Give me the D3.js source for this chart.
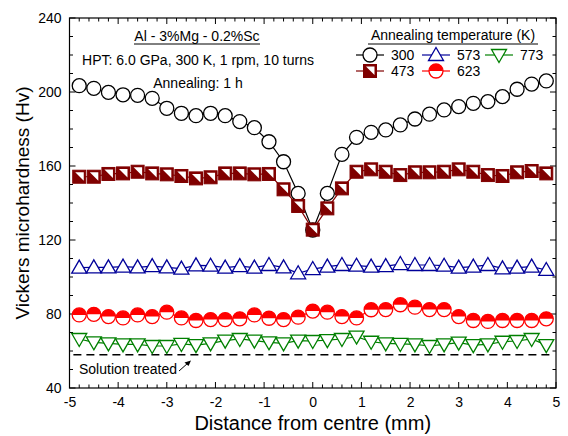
<!DOCTYPE html>
<html><head><meta charset="utf-8">
<script src="https://cdn.jsdelivr.net/npm/d3@7"></script>
<style>body{margin:0;background:#fff}svg{display:block;font-family:"Liberation Sans",Arial,sans-serif}</style>
</head><body><svg id="c" width="568" height="436"></svg>
<script>
const distance = [-4.8,-4.5,-4.2,-3.9,-3.6,-3.3,-3.0,-2.7,-2.4,-2.1,-1.8,-1.5,-1.2,-0.9,-0.6,-0.3,0,0.3,0.6,0.9,1.2,1.5,1.8,2.1,2.4,2.7,3.0,3.3,3.6,3.9,4.2,4.5,4.8];
const hv300 = [203.4,202.0,199.8,198.5,198.2,196.6,191.2,188.5,187.2,188.5,187.2,184.0,180.7,173.1,162.3,145.2,125.4,145.2,166.3,175.5,178.2,179.5,182.2,185.4,188.0,190.3,192.1,193.9,194.8,197.5,201.5,204.3,206.0];
const hv473 = [154.2,154.2,155.7,156.0,156.9,156.0,155.5,154.6,153.3,153.9,156.0,156.0,155.5,155.7,147.4,138.4,125.6,137.1,147.9,156.9,158.2,156.9,155.1,156.6,156.6,156.9,158.2,156.9,155.1,154.6,156.6,157.3,156.0];
const hv573 = [105.1,105.2,105.2,105.6,105.2,105.9,105.2,104.5,106.3,106.1,105.1,105.9,105.1,106.5,105.2,102.0,104.3,105.6,106.5,106.1,105.6,105.9,107.0,106.5,106.5,106.1,105.1,105.6,106.5,104.7,105.1,105.6,103.8];
const hv623 = [79.5,79.8,78.6,77.9,79.5,78.6,81.0,77.9,76.5,77.0,77.0,77.4,79.5,77.7,77.0,78.3,81.6,81.0,78.6,77.9,82.3,82.4,85.0,83.7,82.4,82.4,78.6,76.5,76.0,76.5,76.5,76.5,77.4];
const hv773 = [66.5,64.7,64.1,63.6,63.6,62.7,62.7,63.8,63.2,64.1,65.6,66.5,65.6,64.7,64.1,65.6,65.4,65.9,66.5,67.8,65.0,64.1,63.8,63.6,62.7,63.6,64.5,63.2,63.6,65.0,65.4,66.5,63.2];
const solutionTreated = 58;
const seriesNames = ["300","473","573","623","773"];
const xTicks = [-5,-4,-3,-2,-1,0,1,2,3,4,5];
const yTicks = [40,80,120,160,200,240];

const series = [
  {name:"300", values:hv300, color:"#000000", sym:"circle"},
  {name:"473", values:hv473, color:"#800000", sym:"halfsquare"},
  {name:"573", values:hv573, color:"#000099", sym:"triup"},
  {name:"623", values:hv623, color:"#ff0000", sym:"halfcircle"},
  {name:"773", values:hv773, color:"#008000", sym:"tridown"}
];

const svg = d3.select("#c");
const L=69.5, R=556, T=18, B=388;
const x = d3.scaleLinear().domain([-5,5]).range([L,R]);
const y = d3.scaleLinear().domain([40,240]).range([B,T]);

const g = svg.append("g");
const xMinor = d3.range(-5,5.001,0.2);
const yMinor = d3.range(40,240.001,10);
function tk(x1,y1,x2,y2){g.append("line").attr("x1",x1).attr("y1",y1).attr("x2",x2).attr("y2",y2).attr("stroke","#000").attr("stroke-width",1);}
xMinor.forEach(v=>{
  const major = Math.abs(v-Math.round(v))<1e-6;
  const len = major?6:3.5;
  tk(x(v),B,x(v),B-len); tk(x(v),T,x(v),T+len);
});
yMinor.forEach(v=>{
  const major = v%40===0;
  const len = major?6:3.5;
  tk(L,y(v),L+len,y(v)); tk(R,y(v),R-len,y(v));
});

const xAxis = d3.axisBottom(x).tickValues(xTicks).tickSize(0).tickPadding(9).tickFormat(d=>d<0?"-"+Math.abs(d):d);
const xa = svg.append("g").attr("transform",`translate(0,${B})`).call(xAxis);
xa.select(".domain").remove();
xa.selectAll("text").attr("font-size",14).attr("font-family","Liberation Sans, Arial").attr("fill","#000");
const yAxis = d3.axisLeft(y).tickValues(yTicks).tickSize(0).tickPadding(8);
const ya = svg.append("g").attr("transform",`translate(${L},0)`).call(yAxis);
ya.select(".domain").remove();
ya.selectAll("text").attr("font-size",14).attr("font-family","Liberation Sans, Arial").attr("fill","#000");

svg.append("rect").attr("x",L).attr("y",T).attr("width",R-L).attr("height",B-T).attr("fill","none").attr("stroke","#000").attr("stroke-width",1.2);

svg.append("text").attr("x",(L+R)/2).attr("y",430).attr("text-anchor","middle").attr("font-size",20).text("Distance from centre (mm)");
svg.append("text").attr("transform",`translate(29,${(T+B)/2}) rotate(-90)`).attr("text-anchor","middle").attr("font-size",19).text("Vickers microhardness (Hv)");

svg.append("line").attr("x1",x(-4.92)).attr("x2",x(4.92)).attr("y1",y(solutionTreated)).attr("y2",y(solutionTreated))
  .attr("stroke","#000").attr("stroke-width",1.5).attr("stroke-dasharray","8,5");
svg.append("text").attr("x",79).attr("y",374).attr("font-size",14).text("Solution treated");
svg.append("line").attr("x1",179).attr("y1",371).attr("x2",188).attr("y2",363).attr("stroke","#000").attr("stroke-width",1);
svg.append("path").attr("d","M191,360.5 L184.5,362.5 L188.5,366 Z").attr("fill","#000");

svg.append("text").attr("x",197).attr("y",41).attr("text-anchor","middle").attr("font-size",14).text("Al - 3%Mg - 0.2%Sc");
svg.append("line").attr("x1",134).attr("x2",260).attr("y1",44).attr("y2",44).attr("stroke","#000").attr("stroke-width",1);
svg.append("text").attr("x",198).attr("y",65).attr("text-anchor","middle").attr("font-size",14).text("HPT: 6.0 GPa, 300 K, 1 rpm, 10 turns");
svg.append("text").attr("x",198).attr("y",88).attr("text-anchor","middle").attr("font-size",14).text("Annealing: 1 h");

function drawMarker(sel, sym, color){
  if(sym==="circle"){
    sel.append("circle").attr("r",7).attr("fill","#fff").attr("stroke",color).attr("stroke-width",1.3);
  } else if(sym==="halfsquare"){
    const s=13;
    sel.append("rect").attr("x",-s/2).attr("y",-s/2).attr("width",s).attr("height",s).attr("fill",color).attr("stroke",color).attr("stroke-width",1);
    sel.append("path").attr("d",`M${-s/2+2.5},${-s/2+2} L${s/2-2},${-s/2+2} L${s/2-2},${s/2-2.5} Z`).attr("fill","#fff");
  } else if(sym==="triup"){
    sel.append("path").attr("d","M0,-7.5 L7.5,5.5 L-7.5,5.5 Z").attr("fill","#fff").attr("stroke",color).attr("stroke-width",1.3);
  } else if(sym==="tridown"){
    sel.append("path").attr("d","M0,7.5 L7.5,-5.5 L-7.5,-5.5 Z").attr("fill","#fff").attr("stroke",color).attr("stroke-width",1.3);
  } else if(sym==="halfcircle"){
    sel.append("circle").attr("r",7).attr("fill","#fff").attr("stroke",color).attr("stroke-width",1.3);
    sel.append("path").attr("d","M-7,0 A7,7 0 0 1 7,0 Z").attr("fill",color);
  }
}

const line = d3.line().x(d=>x(d[0])).y(d=>y(d[1]));
series.forEach(s=>{
  const pts = distance.map((d,i)=>[d,s.values[i]]);
  const sg = svg.append("g");
  sg.append("path").attr("d",line(pts)).attr("fill","none").attr("stroke",s.color).attr("stroke-width",1.2);
  pts.forEach(p=>{
    const m = sg.append("g").attr("transform",`translate(${x(p[0])},${y(p[1])})`);
    drawMarker(m,s.sym,s.color);
  });
});

svg.append("text").attr("x",453).attr("y",40).attr("text-anchor","middle").attr("font-size",14).text("Annealing temperature (K)");
svg.append("line").attr("x1",368).attr("x2",538).attr("y1",44).attr("y2",44).attr("stroke","#000").attr("stroke-width",1);
const legPos = [[356,55],[356,71],[422,55],[422,71],[485,55]];
series.forEach((s,i)=>{
  const [lx,ly] = legPos[i];
  const lg = svg.append("g");
  lg.append("line").attr("x1",lx).attr("x2",lx+28).attr("y1",ly).attr("y2",ly).attr("stroke",s.color).attr("stroke-width",1.2);
  const m = lg.append("g").attr("transform",`translate(${lx+14},${ly})`);
  drawMarker(m,s.sym,s.color);
  lg.append("text").attr("x",lx+35).attr("y",ly+5).attr("font-size",14).text(seriesNames[i]);
});
</script></body></html>
